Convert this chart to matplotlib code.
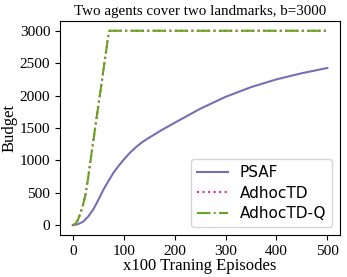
import matplotlib
matplotlib.use("Agg")
import matplotlib.pyplot as plt

# values (x in units of 100 episodes)
psaf_x = [0, 10, 20, 30, 40, 50, 60, 70, 80, 90, 100, 112, 125, 137, 150,
          175, 200, 250, 300, 350, 400, 450, 500]
psaf_y = [0, 15, 52, 130, 240, 385, 545, 680, 810, 915, 1010, 1115, 1210,
          1285, 1350, 1470, 1580, 1795, 1980, 2130, 2250, 2345, 2426]

adhoc_x = [0, 5, 10, 15, 20, 25, 30, 35, 40, 45, 50, 55, 60, 65, 70, 72, 500]
adhoc_y = [0, 20, 80, 180, 310, 470, 720, 1000, 1280, 1560, 1830, 2100,
           2380, 2660, 2930, 3000, 3000]

adhocq_x = adhoc_x
adhocq_y = adhoc_y

fig = plt.figure(figsize=(3.47, 2.77), dpi=100)
ax = fig.add_axes([0.173, 0.152, 0.807, 0.772])

ax.plot(psaf_x, psaf_y, color="#7570b3", lw=1.5, label="PSAF")
ax.plot(adhoc_x, adhoc_y, color="#e7298a", lw=1.5, ls=":", label="AdhocTD")
ax.plot(adhocq_x, adhocq_y, color="#66a61e", lw=1.5, ls="-.", label="AdhocTD-Q")

serif = "Liberation Serif"
ax.set_title("Two agents cover two landmarks, b=3000", fontsize=10.8, family=serif, pad=4)
ax.set_xlabel("x100 Traning Episodes", fontsize=12, family=serif, labelpad=0)
ax.set_ylabel("Budget", fontsize=12, family=serif)
ax.yaxis.set_label_coords(-0.152, 0.5)
ax.set_xticks([0, 100, 200, 300, 400, 500])
ax.set_yticks([0, 500, 1000, 1500, 2000, 2500, 3000])
for lab in ax.get_xticklabels() + ax.get_yticklabels():
    lab.set_family(serif)
    lab.set_fontsize(11)

ax.legend(loc="lower right", prop={"family": "DejaVu Sans", "size": 11},
          labelspacing=0.35)

fig.savefig("out.png", dpi=100)
